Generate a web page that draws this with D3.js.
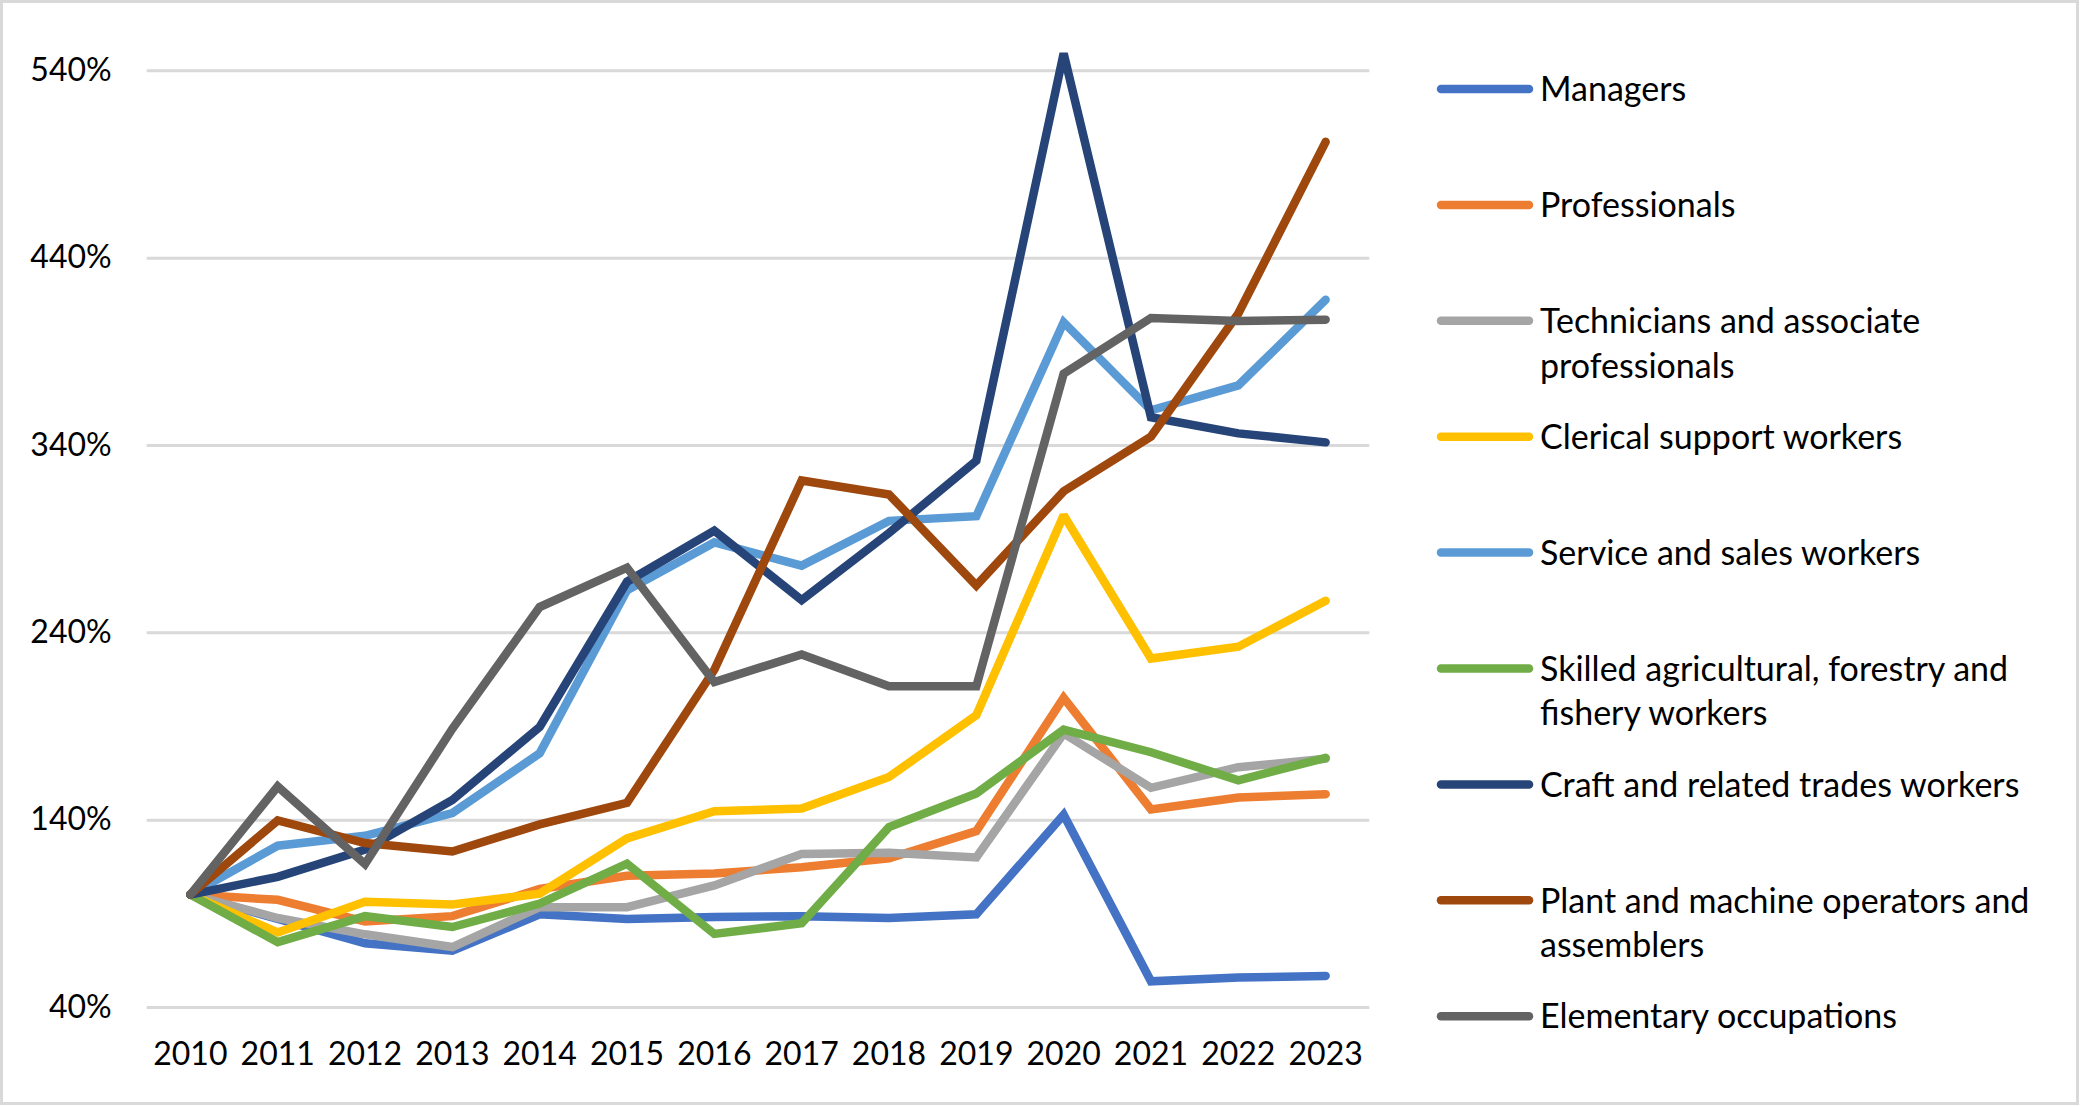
<!DOCTYPE html>
<html>
<head>
<meta charset="utf-8">
<script src="https://cdn.jsdelivr.net/npm/d3@7"></script>
<style>
  body { margin: 0; background: #fff; }
  text { font-family: Lato, "Open Sans", sans-serif; fill: #000; }
</style>
</head>
<body>
<div id="chart"></div>
<script>
const years = [2010, 2011, 2012, 2013, 2014, 2015, 2016, 2017, 2018, 2019, 2020, 2021, 2022, 2023];
const yTicks = [40, 140, 240, 340, 440, 540];

const managers      = [100, 87, 74, 70, 89.5, 87, 88, 88.5, 87.5, 89.5, 142.6, 53.7, 55.7, 56.6];
const professionals = [100, 97.2, 85.6, 88.5, 103, 110.1, 111.3, 114.6, 119.4, 133.9, 205, 145.5, 151.8, 153.6];
const technicians   = [100, 87.5, 78.8, 72, 93.3, 93.3, 104.9, 121.7, 122.3, 119.8, 186, 157, 168, 172.5];
const clerical      = [100, 79.8, 96.2, 94.7, 100.5, 130, 144.5, 146, 162.8, 195.7, 302.5, 226, 232.3, 256.8];
const service       = [100, 126.1, 131.4, 143.5, 175.4, 262.5, 288, 275.6, 299.5, 302, 405.5, 358.5, 371.8, 417.5];
const skilled       = [100, 74.6, 88.5, 82.7, 95.2, 116.5, 79, 84.7, 136, 154, 188, 176, 161, 173];
const craft         = [100, 109.5, 124, 150.5, 189.5, 267, 294.3, 257.2, 293, 331.6, 549, 354.8, 346.2, 341.4];
const plant         = [100, 139.6, 127.5, 123, 137.5, 149, 220, 321, 313.6, 265, 315.3, 344.5, 410.2, 501.8];
const elementary    = [100, 157.7, 116.3, 188.5, 253.5, 274.5, 213.5, 228.2, 211.2, 211.2, 378, 407.8, 406.2, 406.9];

const seriesNames = [
    "Managers",
    "Professionals",
    "Technicians and associate professionals",
    "Clerical support workers",
    "Service and sales workers",
    "Skilled agricultural, forestry and fishery workers",
    "Craft and related trades workers",
    "Plant and machine operators and assemblers",
    "Elementary occupations"
];
const seriesValues = [managers, professionals, technicians, clerical, service, skilled, craft, plant, elementary];
const colours = ["#4472C4", "#ED7D31", "#A5A5A5", "#FFC000", "#5B9BD5", "#70AD47", "#264478", "#9E480E", "#636363"];

const width = 2081;
const height = 1107;
const plotLeft = 146.7;
const plotRight = 1369.3;
const fontSize = 32;
const legendFontSize = 34;

const svg = d3.select('#chart')
    .append('svg')
        .attr('width', width)
        .attr('height', height);

// outer border
svg.append('rect')
    .attr('x', 1.5).attr('y', 1.5)
    .attr('width', 2076).attr('height', 1102)
    .attr('fill', '#fff')
    .attr('stroke', '#d9d9d9')
    .attr('stroke-width', 3);

const xScale = d3.scaleBand()
    .domain(years)
    .range([plotLeft, plotRight])
    .padding(0);

const yScale = d3.scaleLinear()
    .domain([40, 540])
    .range([1007, 70.3]);

// gridlines + y labels
const yAxis = svg.append('g')
    .attr('transform', `translate(${plotLeft}, 0)`)
    .call(d3.axisLeft(yScale)
        .tickValues(yTicks)
        .tickSize(-(plotRight - plotLeft))
        .tickPadding(35)
        .tickFormat(d => d + '%'));
yAxis.select('.domain').remove();
yAxis.selectAll('line').attr('stroke', '#d9d9d9').attr('stroke-width', 3);
yAxis.selectAll('text').attr('font-size', fontSize).attr('font-family', 'Lato');

// x labels
const xAxis = svg.append('g')
    .attr('transform', `translate(0, ${yScale(40)})`)
    .call(d3.axisBottom(xScale).tickSize(0).tickPadding(35));
xAxis.select('.domain').remove();
xAxis.selectAll('text').attr('font-size', fontSize).attr('font-family', 'Lato');

const line = d3.line()
    .x((d, i) => xScale(years[i]) + xScale.bandwidth() / 2)
    .y(d => yScale(d));

svg.append('g')
    .selectAll('path')
    .data(seriesValues)
    .enter()
        .append('path')
            .attr('d', d => line(d))
            .attr('fill', 'none')
            .attr('stroke', (d, i) => colours[i])
            .attr('stroke-width', 8.5)
            .attr('stroke-linecap', 'round')
            .attr('stroke-linejoin', 'miter')
            .attr('stroke-miterlimit', 2);

// legend
const legendTop = 89;
const legendStep = 115.9;
const legendMaxWidth = 535;

let legend = svg.append('g');
seriesNames.forEach((name, i) => {
    const y = legendTop + i * legendStep;
    legend.append('line')
        .attr('x1', 1441).attr('x2', 1529)
        .attr('y1', y).attr('y2', y)
        .attr('stroke', colours[i])
        .attr('stroke-width', 8.5)
        .attr('stroke-linecap', 'round');

    let text = legend.append('text')
        .attr('x', 1540)
        .attr('y', y)
        .attr('dy', '0.36em')
        .attr('font-size', legendFontSize);

    // wrap words like excel does
    const words = name.split(' ');
    let current = [];
    let tspan = text.append('tspan').attr('x', 1540);
    words.forEach(w => {
        current.push(w);
        tspan.text(current.join(' '));
        if (tspan.node().getComputedTextLength() > legendMaxWidth && current.length > 1) {
            current.pop();
            tspan.text(current.join(' '));
            current = [w];
            tspan = text.append('tspan')
                .attr('x', 1540)
                .attr('dy', 44.5)
                .text(w);
        }
    });
});
</script>
</body>
</html>
